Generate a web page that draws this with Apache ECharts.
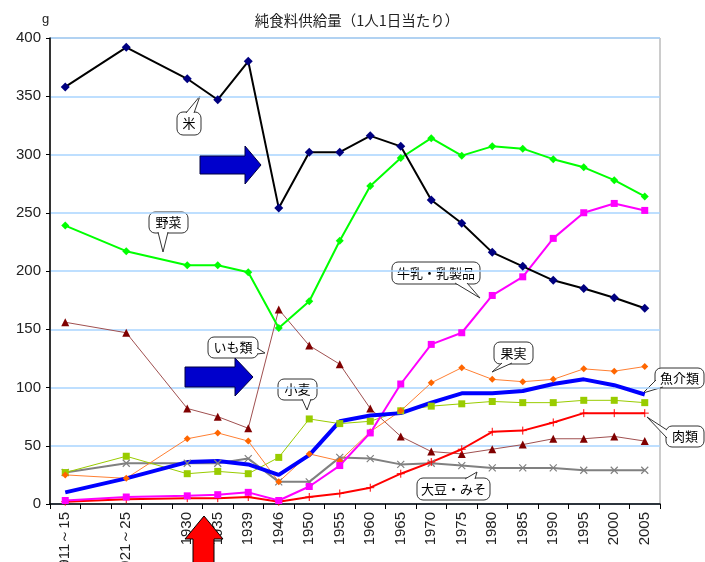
<!DOCTYPE html>
<html>
<head>
	<meta charset="utf-8">
	<script src="https://cdn.jsdelivr.net/npm/echarts@6/dist/echarts.min.js"></script>
	<title>純食料供給量</title>
	<style>
		html, body { margin: 0; padding: 0; background: #fff; }
		#c { width: 705px; height: 562px; }
	</style>
</head>
<body>
	<div id="c"></div>
	<script>
		// 年次（空欄は間隔合わせ）
		var years = ['1911～15', '', '1921～25', '', '1930', '1935', '1939', '1946', '1950', '1955',
			'1960', '1965', '1970', '1975', '1980', '1985', '1990', '1995', '2000', '2005'];
		var rice = [358, null, 392, null, 365, 347, 380, 254, 302, 302, 316, 307, 261, 241, 216, 204, 192, 185, 177, 168];
		var vegetables = [239, null, 217, null, 205, 205, 199, 151, 174, 226, 273, 297, 314, 299, 307, 305, 296, 289, 278, 264];
		var milk = [3, null, 6, null, 7, 8, 10, 3, 15, 33, 61, 103, 137, 147, 179, 195, 228, 250, 258, 252];
		var potatoes = [156, null, 147, null, 82, 75, 65, 167, 136, 120, 82, 58, 45, 43, 47, 51, 56, 56, 58, 54];
		var fruit = [25, null, 22, null, 56, 61, 54, 19, 43, 37, 62, 80, 104, 117, 107, 105, 107, 116, 114, 118];
		var fish = [10, null, 22, null, 36, 37, 34, 25, 42, 71, 76, 78, 87, 95, 95, 97, 103, 107, 102, 94];
		var wheat = [27, null, 41, null, 26, 28, 26, 40, 73, 69, 71, 80, 84, 86, 88, 87, 87, 89, 89, 87];
		var soy = [27, null, 35, null, 35, 35, 39, 19, 19, 40, 39, 34, 35, 33, 31, 31, 31, 29, 29, 29];
		var meat = [2, null, 4, null, 5, 5, 6, 2, 6, 9, 14, 26, 36, 47, 62, 63, 70, 78, 78, 78];

		var jp = '"Noto Sans CJK JP", sans-serif';
		var latin = '"Liberation Sans", Arial, sans-serif';
		var crossX = 'path://M0,0L10,10M10,0L0,10';
		var crossPlus = 'path://M5,0L5,10M0,5L10,5';

		function line(name, data, color, width, symbol, size, symColor, extra) {
			var s = {
				name: name,
				type: 'line',
				data: data,
				connectNulls: true,
				symbol: symbol,
				symbolSize: size,
				showSymbol: symbol !== 'none',
				lineStyle: { color: color, width: width },
				itemStyle: { color: symColor || color },
				animation: false
			};
			for (var k in extra) s[k] = extra[k];
			return s;
		}

		// 吹き出し
		function callout(x, y, w, h, text, b1, tip, b2) {
			return {
				type: 'group',
				children: [
					{ type: 'rect', shape: { x: x, y: y, width: w, height: h, r: 6 },
						style: { fill: '#fff', stroke: '#333', lineWidth: 1 } },
					{ type: 'polygon', shape: { points: [b1, tip, b2] }, style: { fill: '#fff' } },
					{ type: 'polyline', shape: { points: [b1, tip, b2] }, style: { stroke: '#333', fill: null, lineWidth: 1 } },
					{ type: 'text', x: x + w / 2, y: y + h / 2,
						style: { text: text, fill: '#000', font: '13px ' + jp, align: 'center', verticalAlign: 'middle' } }
				]
			};
		}

		var myChart = echarts.init(document.getElementById('c'));
		var option = {
			backgroundColor: '#fff',
			animation: false,
			title: {
				text: '純食料供給量（1人1日当たり）',
				left: 352, top: 8, textAlign: 'center',
				textStyle: { fontFamily: jp, fontSize: 14.5, fontWeight: 'normal', color: '#222' }
			},
			grid: { left: 50, right: 45, top: 38, bottom: 58, containLabel: false, outerBoundsMode: 'none',
				show: true, borderColor: '#999', borderWidth: 1 },
			xAxis: {
				type: 'category',
				data: years,
				boundaryGap: true,
				axisLine: { lineStyle: { color: '#000', width: 1.5 } },
				axisTick: { show: true, interval: 0, length: 5, lineStyle: { color: '#000' } },
				axisLabel: { interval: 0, rotate: 90, fontFamily: latin, fontSize: 15, color: '#222', margin: 8 }
			},
			yAxis: {
				type: 'value',
				min: 0, max: 400, interval: 50,
				name: 'g',
				nameLocation: 'end',
				nameGap: 12,
				nameTextStyle: { fontFamily: latin, fontSize: 13, color: '#222', align: 'left', padding: [0, 0, 0, -8] },
				axisLine: { show: true, lineStyle: { color: '#000', width: 1.5 } },
				axisTick: { show: true, length: 4, lineStyle: { color: '#000' } },
				axisLabel: { fontFamily: latin, fontSize: 15, color: '#222', margin: 9 },
				splitLine: { lineStyle: { color: '#a8d4ff', width: 1.5 } }
			},
			series: [
				line('いも類', potatoes, '#a05050', 1, 'triangle', 8, '#800000'),
				line('大豆・みそ', soy, '#808080', 2, crossX, 7, '#808080', { itemStyle: { color: 'none', borderColor: '#808080', borderWidth: 1.2 } }),
				line('小麦', wheat, '#99cc00', 1, 'rect', 7, '#99cc00'),
				line('果実', fruit, '#ff8033', 1, 'diamond', 7, '#ff6600'),
				line('肉類', meat, '#ff0000', 2, crossPlus, 8, '#ff0000', { itemStyle: { color: 'none', borderColor: '#ff0000', borderWidth: 1 } }),
				line('牛乳・乳製品', milk, '#ff00ff', 2, 'rect', 7, '#ff00ff'),
				line('魚介類', fish, '#0000ff', 4, 'none', 0, '#0000ff'),
				line('野菜', vegetables, '#00ff00', 2, 'diamond', 8, '#00ff00'),
				line('米', rice, '#000000', 2, 'diamond', 9, '#000080')
			],
			graphic: [
				// 青矢印
				{ type: 'polygon', z: 50, shape: { points: [[200, 156], [245, 156], [245, 146], [261, 165], [245, 184], [245, 174], [200, 174]] },
					style: { fill: '#0000cc', stroke: '#000040', lineWidth: 1 } },
				{ type: 'polygon', z: 50, shape: { points: [[185, 367], [235, 367], [235, 358], [253, 377], [235, 396], [235, 387], [185, 387]] },
					style: { fill: '#0000cc', stroke: '#000040', lineWidth: 1 } },
				// 赤矢印
				{ type: 'polygon', z: 50, shape: { points: [[204, 516], [223, 539], [214, 539], [214, 575], [193, 575], [193, 539], [185, 539]] },
					style: { fill: '#ff0000', stroke: '#000', lineWidth: 1 } },
				callout(177, 112, 24, 23, '米', [186, 113], [200, 96], [194, 113]),
				callout(149, 212, 39, 21, '野菜', [158, 232], [163, 252], [168, 232]),
				callout(208, 337, 50, 21, 'いも類', [257, 348], [265, 353], [257, 354]),
				callout(278, 379, 39, 21, '小麦', [302, 399], [307, 410], [311, 399]),
				callout(392, 262, 88, 22, '牛乳・乳製品', [455, 283], [480, 298], [467, 283]),
				callout(494, 342, 39, 22, '果実', [502, 363], [492, 372], [512, 363]),
				callout(655, 368, 49, 20, '魚介類', [656, 380], [643, 393], [663, 387]),
				callout(666, 426, 38, 21, '肉類', [667, 430], [647, 417], [667, 438]),
				callout(417, 478, 73, 22, '大豆・みそ', [465, 479], [477, 472], [475, 479])
			]
		};
		myChart.setOption(option);
	</script>
</body>
</html>
